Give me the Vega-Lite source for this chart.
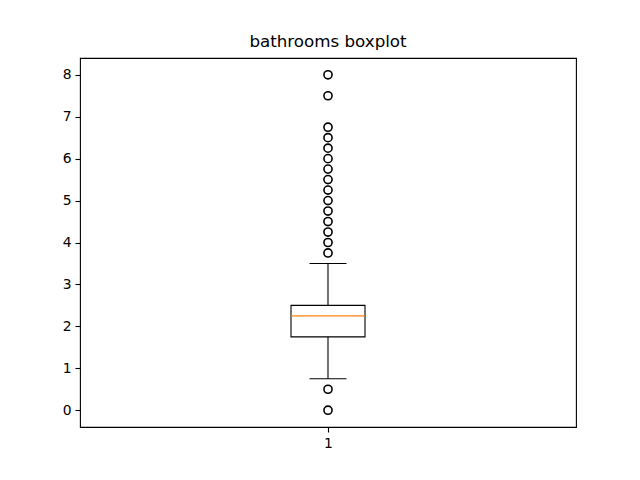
{
  "$schema": "https://vega.github.io/schema/vega-lite/v6.json",
  "width": 496,
  "height": 369,
  "autosize": {"type": "none"},
  "padding": {"left": 80, "top": 58, "right": 64, "bottom": 53},
  "background": "white",
  "title": {"text": "bathrooms boxplot", "font": "DejaVu Sans", "fontSize": 16.7, "fontWeight": "normal", "color": "black", "offset": 7, "anchor": "middle", "frame": "group"},
  "config": {
    "view": {"stroke": "black", "strokeWidth": 1.1},
    "axis": {"grid": false, "domain": false, "tickColor": "black", "tickSize": 5, "tickWidth": 1.1, "labelFont": "DejaVu Sans", "labelFontSize": 13.9, "labelColor": "black", "labelPadding": 4, "title": null}
  },
  "datasets": {
    "box": [{"pos": 1, "lower": 0.75, "q1": 1.75, "median": 2.25, "q3": 2.5, "upper": 3.5}],
    "outliers": [
      {"pos": 1, "value": 0.0}, {"pos": 1, "value": 0.5},
      {"pos": 1, "value": 3.75}, {"pos": 1, "value": 4.0}, {"pos": 1, "value": 4.25}, {"pos": 1, "value": 4.5},
      {"pos": 1, "value": 4.75}, {"pos": 1, "value": 5.0}, {"pos": 1, "value": 5.25}, {"pos": 1, "value": 5.5},
      {"pos": 1, "value": 5.75}, {"pos": 1, "value": 6.0}, {"pos": 1, "value": 6.25}, {"pos": 1, "value": 6.5},
      {"pos": 1, "value": 6.75}, {"pos": 1, "value": 7.5}, {"pos": 1, "value": 8.0}
    ]
  },
  "layer": [
    {
      "data": {"name": "box"},
      "mark": {"type": "rule", "color": "black", "strokeWidth": 1.1},
      "encoding": {
        "x": {"field": "pos", "type": "quantitative", "scale": {"domain": [0.5, 1.5], "nice": false, "zero": false}, "axis": {"values": [1], "format": "d"}},
        "y": {"field": "lower", "type": "quantitative", "scale": {"domain": [-0.4, 8.4], "nice": false, "zero": false}, "axis": {"values": [0, 1, 2, 3, 4, 5, 6, 7, 8]}},
        "y2": {"field": "upper"}
      }
    },
    {
      "data": {"name": "box"},
      "mark": {"type": "bar", "size": 74, "fill": "white", "stroke": "black", "strokeWidth": 1.1},
      "encoding": {
        "x": {"field": "pos", "type": "quantitative"},
        "y": {"field": "q1", "type": "quantitative"},
        "y2": {"field": "q3"}
      }
    },
    {
      "data": {"name": "box"},
      "mark": {"type": "tick", "orient": "horizontal", "size": 74, "color": "#ff7f0e", "thickness": 1.1, "opacity": 1},
      "encoding": {
        "x": {"field": "pos", "type": "quantitative"},
        "y": {"field": "median", "type": "quantitative"}
      }
    },
    {
      "data": {"name": "box"},
      "mark": {"type": "tick", "orient": "horizontal", "size": 37, "color": "black", "thickness": 1.1, "opacity": 1},
      "encoding": {
        "x": {"field": "pos", "type": "quantitative"},
        "y": {"field": "lower", "type": "quantitative"}
      }
    },
    {
      "data": {"name": "box"},
      "mark": {"type": "tick", "orient": "horizontal", "size": 37, "color": "black", "thickness": 1.1, "opacity": 1},
      "encoding": {
        "x": {"field": "pos", "type": "quantitative"},
        "y": {"field": "upper", "type": "quantitative"}
      }
    },
    {
      "data": {"name": "outliers"},
      "mark": {"type": "point", "shape": "circle", "size": 66, "filled": false, "stroke": "black", "strokeWidth": 1.6, "opacity": 1},
      "encoding": {
        "x": {"field": "pos", "type": "quantitative"},
        "y": {"field": "value", "type": "quantitative"}
      }
    }
  ]
}
